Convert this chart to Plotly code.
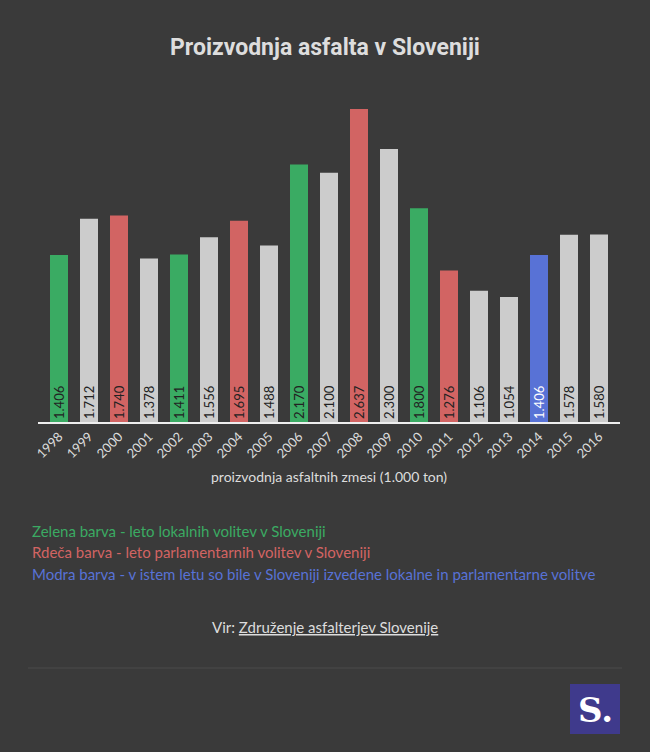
import plotly.graph_objects as go

years = ["1998","1999","2000","2001","2002","2003","2004","2005","2006","2007",
         "2008","2009","2010","2011","2012","2013","2014","2015","2016"]
values = [1406,1712,1740,1378,1411,1556,1695,1488,2170,2100,
          2637,2300,1800,1276,1106,1054,1406,1578,1580]
labels = ["1.406","1.712","1.740","1.378","1.411","1.556","1.695","1.488","2.170","2.100",
          "2.637","2.300","1.800","1.276","1.106","1.054","1.406","1.578","1.580"]
# election type: L = local, P = parliamentary, B = both, N = none
kinds = ["L","N","P","N","L","N","P","N","L","N",
         "P","N","L","P","N","N","B","N","N"]

colmap = {"L": "#3aab63", "N": "#cccccc", "P": "#d26463", "B": "#5872d6"}
txtmap = {"L": "#222222", "N": "#222222", "P": "#222222", "B": "#ffffff"}

BG = "#3a3a3a"
FONT = "Lato"

xs = list(range(len(years)))
fig = go.Figure()
fig.add_trace(go.Bar(
    x=xs, y=values, text=labels, width=0.6,
    marker=dict(color=[colmap[k] for k in kinds], line=dict(width=0)),
    textposition="inside", insidetextanchor="start", textangle=-90,
    insidetextfont=dict(family=FONT, size=13, color=[txtmap[k] for k in kinds]),
    constraintext="none", hoverinfo="skip",
))

W, H = 650, 752
plot_l, plot_r = 38, 620
plot_t, plot_b = 80, 422

fig.update_layout(
    width=W, height=H,
    paper_bgcolor=BG, plot_bgcolor=BG,
    margin=dict(l=plot_l, r=W - plot_r, t=plot_t, b=H - plot_b, autoexpand=False),
    showlegend=False,
    font=dict(family=FONT, color="#dddddd"),
    title=dict(text="<b>Proizvodnja asfalta v Sloveniji</b>", x=0.5, xanchor="center",
               y=1 - 47 / H, yanchor="middle",
               font=dict(family="Roboto", size=23, color="#dddddd")),
    bargap=0.4,
)
fig.update_xaxes(
    range=[-0.7, 18.7], tickmode="array", tickvals=xs, ticktext=years,
    tickangle=-45, tickfont=dict(family=FONT, size=13, color="#dddddd"),
    showgrid=False, zeroline=False, showline=True, linecolor="#eeeeee", linewidth=2,
    ticks="", fixedrange=True,
)
fig.update_yaxes(
    range=[0, (plot_b - plot_t) / (313 / 2637)], visible=False, showgrid=False,
    zeroline=False, fixedrange=True,
)

def px2x(px):
    return (px - plot_l) / (plot_r - plot_l)

def py2y(py):
    return (plot_b - py) / (plot_b - plot_t)

anns = [
    dict(text="proizvodnja asfaltnih zmesi (1.000 ton)", x=329, y=476,
         xanchor="center", font=dict(size=14, color="#dddddd")),
    dict(text="Zelena barva - leto lokalnih volitev v Sloveniji", x=30, y=531,
         xanchor="left", font=dict(size=15, color="#3aab63")),
    dict(text="Rdeča barva - leto parlamentarnih volitev v Sloveniji", x=30, y=552,
         xanchor="left", font=dict(size=15, color="#d26463")),
    dict(text="Modra barva - v istem letu so bile v Sloveniji izvedene lokalne in parlamentarne volitve",
         x=30, y=574, xanchor="left", font=dict(size=15, color="#5872d6")),
    dict(text="Vir: <u>Združenje asfalterjev Slovenije</u>", x=325, y=627,
         xanchor="center", font=dict(size=15, color="#dddddd")),
    dict(text="<b>S.</b>", x=595, y=710, xanchor="center",
         font=dict(family="DejaVu Serif, Liberation Serif", size=34, color="#ffffff")),
]
for a in anns:
    a.update(xref="paper", yref="paper", showarrow=False, yanchor="middle",
             x=px2x(a["x"]), y=py2y(a["y"]))
fig.update_layout(annotations=anns)

fig.add_shape(type="line", xref="paper", yref="paper",
              x0=px2x(28), x1=px2x(622), y0=py2y(668), y1=py2y(668),
              line=dict(color="#4a4a4a", width=1))
fig.add_shape(type="rect", xref="paper", yref="paper",
              x0=px2x(570), x1=px2x(620), y0=py2y(734), y1=py2y(684),
              fillcolor="#3f3a8c", line=dict(width=0), layer="below")

fig.write_html("out.html", config={"displayModeBar": False},
               post_script="document.body.style.margin='0';document.body.style.background='%s';" % BG)
